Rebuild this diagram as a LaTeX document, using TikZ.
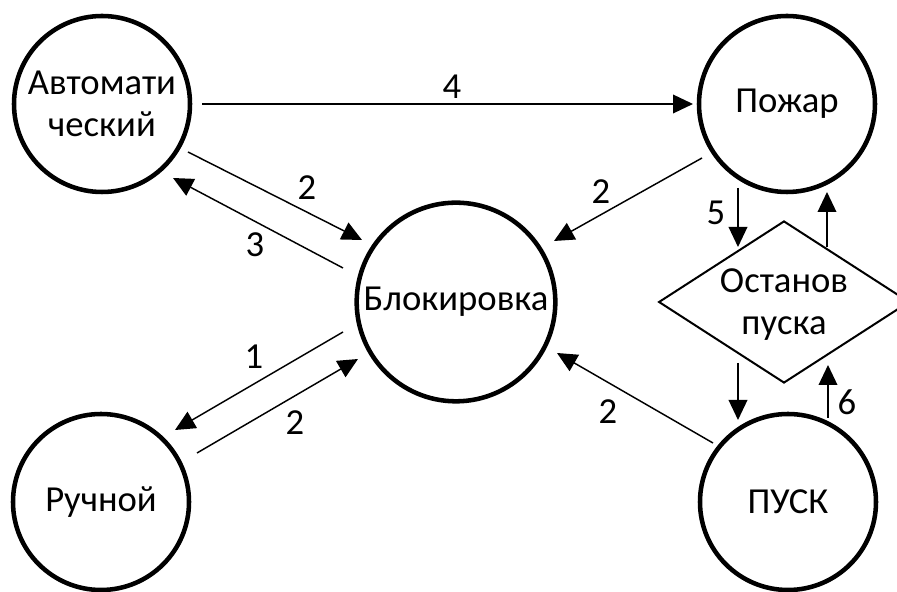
\documentclass[tikz,border=0pt]{standalone}
\usepackage{fontspec}
\setmainfont{Carlito}
\usepackage{tikz}
\usetikzlibrary{calc, shapes.geometric, arrows.meta}

\tikzset{
  state/.style={draw, circle, line width=3.4pt, minimum size=132pt, inner sep=0pt, align=center},
  ar/.style={-{Triangle[length=15pt, width=14pt]}, line width=1.1pt},
}

\begin{document}
\begin{tikzpicture}[x=0.75pt, y=0.75pt, font=\fontsize{27.5}{32}\selectfont]
  \useasboundingbox (0,0) rectangle (897,592);
  % Nodes
  \node[state] (avt) at (102,488) {Автомати\\ческий};
  \node[state] (pozh) at (787,488) {Пожар};
  \node[state, minimum size=149pt] (blk) at (456,290) {Блокировка};
  \node[state] (ruch) at (101,90) {Ручной};
  \node[state] (pusk) at (788,90) {ПУСК};
  \node[draw, diamond, line width=1.5pt, minimum width=188pt, minimum height=121.5pt, inner sep=0pt,
    label={[align=center, yshift=-2pt]center:Останов\\пуска}] (ost) at (784,290) {};

  % Labels
  \node (l4) at (452,505) {4};
  \node (l2a) at (307,404) {2};
  \node (l3) at (255,347) {3};
  \node (l2b) at (601,400) {2};
  \node (l5) at (716,379) {5};
  \node (l6) at (847,190) {6};
  \node (l2c) at (608,180) {2};
  \node (l1) at (254,235) {1};
  \node (l2d) at (295,169) {2};

  \draw[ar] ($(avt)+(100,0)$) -- ($(pozh)+(-94,0)$);
  \draw[ar] ($(avt)+(86,-48)$) -- ($(blk)+(-94,62)$);
  \draw[ar] ($(blk)+(-113,34)$) -- ($(avt)+(71,-74)$);
  \draw[ar] ($(pozh)+(-85,-54)$) -- ($(blk)+(98,61)$);
  \draw[ar] ($(pusk)+(-75,59)$) -- ($(blk)+(101,-51)$);
  \draw[ar] ($(blk)+(-113,-30)$) -- ($(ruch)+(74,72)$);
  \draw[ar] ($(ruch)+(96,49)$) -- ($(blk)+(-98,-57)$);

  \draw[ar] ($(pozh)+(-49,-84)$) -- ($(ost)+(-46,55)$);
  \draw[ar] ($(ost)+(43,55)$) -- ($(pozh)+(40,-88)$);
  \draw[ar] ($(ost)+(-46,-61)$) -- ($(pusk)+(-50,82)$);
  \draw[ar] ($(pusk)+(40,84)$) -- ($(ost)+(44,-63)$);
\end{tikzpicture}
\end{document}
